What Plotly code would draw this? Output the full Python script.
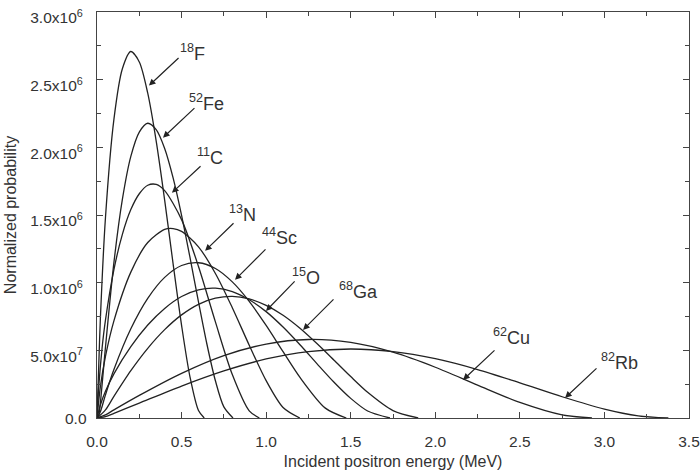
import plotly.graph_objects as go

# ---- data (energy in MeV, probability in units of 1e6) ----
F18_E = [0, 0.01, 0.02, 0.05, 0.1, 0.15, 0.2, 0.25, 0.3, 0.35, 0.4, 0.45, 0.5, 0.55, 0.6, 0.634]
F18_Y = [0, 0.375, 0.735, 1.480, 2.207, 2.581, 2.708, 2.631, 2.400, 2.046, 1.610, 1.139, 0.685, 0.302, 0.055, 0]

Fe52_E = [0, 0.01, 0.02, 0.05, 0.1, 0.15, 0.2, 0.25, 0.3, 0.35, 0.4, 0.45, 0.5, 0.55, 0.6, 0.65, 0.7, 0.75, 0.804]
Fe52_Y = [0, 0.021, 0.114, 0.522, 1.148, 1.615, 1.933, 2.113, 2.178, 2.131, 1.992, 1.774, 1.498, 1.185, 0.858, 0.545, 0.275, 0.082, 0]

C11_E = [0, 0.01, 0.03, 0.05, 0.1, 0.15, 0.2, 0.25, 0.3, 0.35, 0.4, 0.5, 0.6, 0.7, 0.8, 0.9, 0.96]
C11_Y = [0, 0.225, 0.516, 0.723, 1.096, 1.357, 1.540, 1.657, 1.720, 1.726, 1.680, 1.466, 1.120, 0.710, 0.321, 0.053, 0]

N13_E = [0, 0.02, 0.05, 0.1, 0.2, 0.3, 0.4, 0.45, 0.5, 0.6, 0.7, 0.8, 0.9, 1.0, 1.1, 1.199]
N13_Y = [0, 0.232, 0.455, 0.718, 1.078, 1.297, 1.394, 1.400, 1.379, 1.265, 1.068, 0.815, 0.538, 0.276, 0.078, 0]

Sc44_E = [0, 0.02, 0.05, 0.1, 0.2, 0.3, 0.4, 0.5, 0.6, 0.7, 0.8, 0.9, 1.0, 1.1, 1.2, 1.35, 1.474]
Sc44_Y = [0, 0.047, 0.171, 0.358, 0.659, 0.884, 1.039, 1.127, 1.147, 1.105, 1.006, 0.862, 0.684, 0.490, 0.300, 0.073, 0]

O15_E = [0, 0.02, 0.05, 0.1, 0.2, 0.3, 0.4, 0.5, 0.6, 0.7, 0.8, 0.9, 1.0, 1.1, 1.2, 1.3, 1.4, 1.5, 1.6, 1.732]
O15_Y = [0, 0.096, 0.197, 0.326, 0.527, 0.687, 0.810, 0.898, 0.947, 0.959, 0.934, 0.874, 0.786, 0.672, 0.541, 0.402, 0.266, 0.145, 0.052, 0]

Ga68_E = [0, 0.05, 0.1, 0.2, 0.3, 0.4, 0.5, 0.6, 0.7, 0.8, 0.9, 1.0, 1.1, 1.2, 1.3, 1.4, 1.5, 1.6, 1.75, 1.899]
Ga68_Y = [0, 0.060, 0.160, 0.350, 0.515, 0.653, 0.762, 0.840, 0.885, 0.899, 0.880, 0.832, 0.759, 0.663, 0.550, 0.429, 0.306, 0.190, 0.055, 0]

Cu62_E = [0, 0.05, 0.1, 0.25, 0.5, 0.75, 1.0, 1.25, 1.5, 1.75, 2.0, 2.25, 2.5, 2.75, 2.926]
Cu62_Y = [0, 0.023, 0.060, 0.167, 0.330, 0.461, 0.546, 0.580, 0.558, 0.486, 0.375, 0.243, 0.115, 0.023, 0]

Rb82_E = [0, 0.05, 0.1, 0.25, 0.5, 0.75, 1.0, 1.25, 1.5, 1.75, 2.0, 2.25, 2.5, 2.75, 3.0, 3.2, 3.378]
Rb82_Y = [0, 0.0105, 0.034, 0.110, 0.236, 0.348, 0.436, 0.491, 0.510, 0.491, 0.438, 0.358, 0.260, 0.157, 0.066, 0.016, 0]

series = [
    ("<sup>18</sup>F", F18_E, F18_Y),
    ("<sup>52</sup>Fe", Fe52_E, Fe52_Y),
    ("<sup>11</sup>C", C11_E, C11_Y),
    ("<sup>13</sup>N", N13_E, N13_Y),
    ("<sup>44</sup>Sc", Sc44_E, Sc44_Y),
    ("<sup>15</sup>O", O15_E, O15_Y),
    ("<sup>68</sup>Ga", Ga68_E, Ga68_Y),
    ("<sup>62</sup>Cu", Cu62_E, Cu62_Y),
    ("<sup>82</sup>Rb", Rb82_E, Rb82_Y),
]

x_ticks = [0, 0.5, 1.0, 1.5, 2.0, 2.5, 3.0, 3.5]
x_ticktext = ["0.0", "0.5", "1.0", "1.5", "2.0", "2.5", "3.0", "3.5"]
y_ticks = [0.5e6, 1.0e6, 1.5e6, 2.0e6, 2.5e6, 3.0e6]
y_ticktext = ["5.0x10<sup>7</sup>", "1.0x10<sup>6</sup>", "1.5x10<sup>6</sup>",
              "2.0x10<sup>6</sup>", "2.5x10<sup>6</sup>", "3.0x10<sup>6</sup>"]
y_zero_label = "0.0"

# label placement: (label x, label y, arrow tail x, tail y, arrow tip x, tip y) in data units (y in 1e6)
label_pos = [
    (0.479, 2.700, 0.491, 2.670, 0.307, 2.456),
    (0.532, 2.330, 0.585, 2.300, 0.390, 2.071),
    (0.579, 1.930, 0.621, 1.871, 0.443, 1.664),
    (0.769, 1.509, 0.816, 1.450, 0.639, 1.235),
    (0.964, 1.339, 1.005, 1.257, 0.816, 1.021),
    (1.141, 1.043, 1.177, 1.021, 0.999, 0.791),
    (1.419, 0.939, 1.407, 0.888, 1.218, 0.651),
    (2.329, 0.599, 2.359, 0.510, 2.164, 0.281),
    (2.968, 0.414, 2.962, 0.377, 2.767, 0.148),
]

LINE = "#222222"
AX = "#444444"
TEXT = "#333333"
FONT = "Liberation Sans, Arial, Helvetica, sans-serif"

fig = go.Figure()
for name, xs, ys in series:
    fig.add_trace(go.Scatter(
        x=xs, y=[v * 1e6 for v in ys], mode="lines", name=name,
        line=dict(color=LINE, width=1.3, shape="spline", smoothing=0.8),
        hoverinfo="skip",
    ))

annotations = []
for (name, _, _), (lx, ly, tx, ty, hx, hy) in zip(series, label_pos):
    annotations.append(dict(
        x=hx, y=hy * 1e6, ax=tx, ay=ty * 1e6, xref="x", yref="y", axref="x", ayref="y",
        text="", showarrow=True, arrowhead=2, arrowsize=1.1, arrowwidth=1.2,
        arrowcolor=LINE, standoff=0, startstandoff=0,
    ))
    annotations.append(dict(
        x=lx, y=ly * 1e6, xref="x", yref="y", text=name, showarrow=False,
        xanchor="left", yanchor="middle", font=dict(size=18, color=TEXT, family=FONT),
    ))
# y-axis "0.0" label sits level with the axis (no superscript offset)
annotations.append(dict(
    x=0, y=0, xref="paper", yref="y", text=y_zero_label, showarrow=False,
    xanchor="right", yanchor="middle", xshift=-8, font=dict(size=15.5, color=TEXT, family=FONT),
))

fig.update_layout(
    width=700, height=476,
    margin=dict(l=97, r=11, t=12, b=58, autoexpand=False),
    plot_bgcolor="white", paper_bgcolor="white",
    showlegend=False,
    font=dict(family=FONT, size=15.5, color=TEXT),
    annotations=annotations,
    xaxis=dict(
        range=[0, 3.5], tickvals=x_ticks, ticktext=x_ticktext, automargin=False,
        ticks="inside", ticklen=6, tickwidth=1, tickcolor=AX,
        showline=True, linecolor=AX, linewidth=1.2, mirror="allticks",
        showgrid=False, zeroline=False, ticklabelstandoff=9, ticklabeloverflow="allow",
        minor=dict(ticks="inside", ticklen=4, dtick=0.25, tick0=0, tickcolor=AX, showgrid=False),
        title=dict(text="Incident positron energy (MeV)", font=dict(size=16, color=TEXT), standoff=7),
        tickfont=dict(size=15.5, color=TEXT),
    ),
    yaxis=dict(
        range=[0, 3.0e6], tickvals=y_ticks, ticktext=y_ticktext, automargin=False,
        ticks="inside", ticklen=6, tickwidth=1, tickcolor=AX,
        showline=True, linecolor=AX, linewidth=1.2, mirror="allticks",
        showgrid=False, zeroline=False, ticklabelstandoff=10, ticklabelshift=6,
        ticklabeloverflow="allow",
        minor=dict(ticks="inside", ticklen=4, dtick=0.25e6, tick0=0, tickcolor=AX, showgrid=False),
        title=dict(text="Normalized probability", font=dict(size=16, color=TEXT), standoff=9),
        tickfont=dict(size=15.5, color=TEXT),
    ),
)

fig.write_html(
    "out.html",
    config={"displayModeBar": False},
    post_script="document.body.style.margin='0';document.body.style.overflow='hidden';",
)
